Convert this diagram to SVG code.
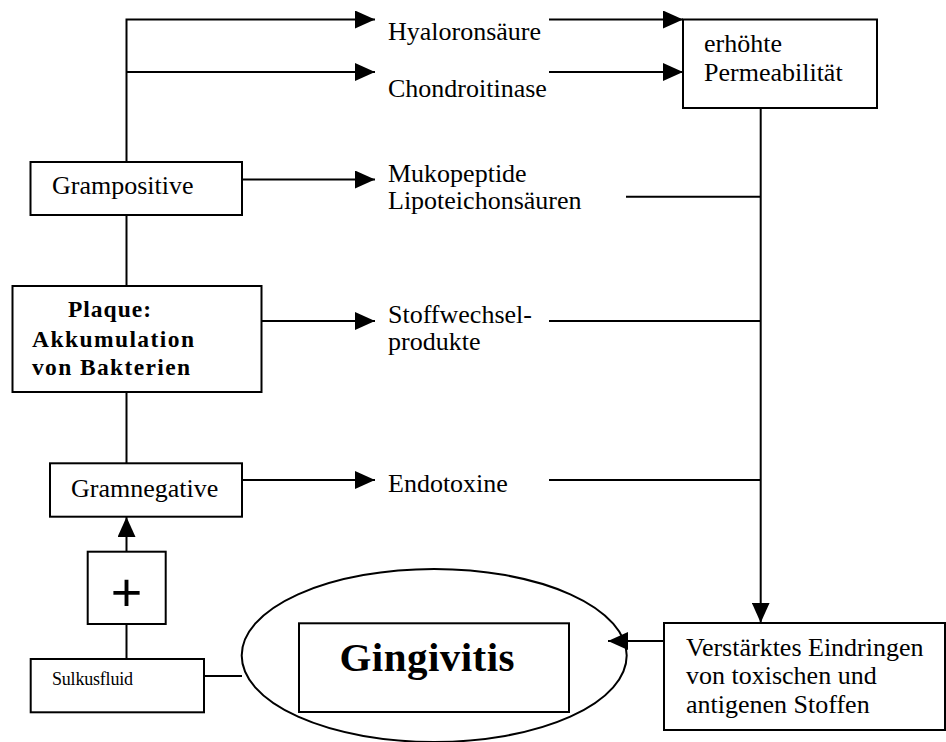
<svg xmlns="http://www.w3.org/2000/svg" width="946" height="742" viewBox="0 0 946 742">
<style>
.t{font-family:"Liberation Serif","Times New Roman",serif;font-size:26px;fill:#000}
.b{font-family:"Liberation Serif","Times New Roman",serif;font-weight:bold;fill:#000}
.box{fill:#fff;stroke:#000;stroke-width:2}
.ln{fill:none;stroke:#000;stroke-width:2}
</style>
<defs>
<marker id="ah" viewBox="0 0 20 18" refX="20" refY="9" markerWidth="20" markerHeight="18" markerUnits="userSpaceOnUse" orient="auto">
<path d="M0,0 L20,9 L0,18 Z" fill="#000"/>
</marker>
</defs>
<rect width="946" height="742" fill="#fff"/>
<g id="connectors">
<path class="ln" d="M126.5,162 V19.5 H375" marker-end="url(#ah)"/>
<path class="ln" d="M126.5,72 H375" marker-end="url(#ah)"/>
<path class="ln" d="M549,19.5 H683" marker-end="url(#ah)"/>
<path class="ln" d="M549,72 H683" marker-end="url(#ah)"/>
<path class="ln" d="M242,179.5 H375" marker-end="url(#ah)"/>
<path class="ln" d="M126.5,215 V286"/>
<path class="ln" d="M262,321 H375" marker-end="url(#ah)"/>
<path class="ln" d="M126.5,392 V463"/>
<path class="ln" d="M242,480 H375" marker-end="url(#ah)"/>
<path class="ln" d="M126.5,552 V517" marker-end="url(#ah)"/>
<path class="ln" d="M126.5,624 V659"/>
<path class="ln" d="M204,676 H242"/>
<path class="ln" d="M760.7,108 V622.7" marker-end="url(#ah)"/>
<path class="ln" d="M626,196.7 H760.7"/>
<path class="ln" d="M549,321 H760.7"/>
<path class="ln" d="M549,480 H760.7"/>
<path class="ln" d="M664,641 H608" marker-end="url(#ah)"/>
</g>
<g id="hyaloronsaeure"><text class="t" x="388" y="40">Hyaloronsäure</text></g>
<g id="chondroitinase"><text class="t" x="388" y="97">Chondroitinase</text></g>
<g id="permeabilitaet">
<rect class="box" x="683" y="19.5" width="194" height="88.5"/>
<text class="t" x="704" y="52">erhöhte</text>
<text class="t" x="704" y="81">Permeabilität</text>
</g>
<g id="grampositive">
<rect class="box" x="30.5" y="162" width="211.5" height="53"/>
<text class="t" x="52" y="194">Grampositive</text>
</g>
<g id="mukopeptide">
<text class="t" x="388" y="182">Mukopeptide</text>
<text class="t" x="388" y="209">Lipoteichonsäuren</text>
</g>
<g id="plaque">
<rect class="box" x="12.5" y="286" width="249" height="106"/>
<text class="b" font-size="23.5" x="68" y="317" textLength="83" lengthAdjust="spacing">Plaque:</text>
<text class="b" font-size="23.5" x="32" y="346.5" textLength="162" lengthAdjust="spacing">Akkumulation</text>
<text class="b" font-size="23.5" x="32" y="375" textLength="158" lengthAdjust="spacing">von Bakterien</text>
</g>
<g id="stoffwechsel">
<text class="t" x="388" y="322.5">Stoffwechsel-</text>
<text class="t" x="388" y="350">produkte</text>
</g>
<g id="gramnegative">
<rect class="box" x="50" y="463.3" width="192" height="53.4"/>
<text class="t" x="71" y="497">Gramnegative</text>
</g>
<g id="endotoxine"><text class="t" x="388" y="491.5">Endotoxine</text></g>
<g id="plus">
<rect class="box" x="87.7" y="551.7" width="78" height="72.3"/>
<text x="126.5" y="610.5" text-anchor="middle" font-family="Liberation Sans, Arial, sans-serif" font-size="54" fill="#000">+</text>
</g>
<g id="sulkusfluid">
<rect class="box" x="30.7" y="659" width="173.3" height="53.3"/>
<text class="t" x="52" y="685" style="font-size:18px" textLength="81" lengthAdjust="spacing">Sulkusfluid</text>
</g>
<g id="gingivitis">
<ellipse class="ln" cx="434.2" cy="655.5" rx="192.5" ry="86.5"/>
<rect class="box" x="299" y="623.3" width="270" height="88.7"/>
<text class="b" font-size="41" x="339.5" y="670.7" textLength="175" lengthAdjust="spacing">Gingivitis</text>
</g>
<g id="eindringen">
<rect class="box" x="664" y="623" width="281" height="107"/>
<text class="t" x="686" y="656">Verstärktes Eindringen</text>
<text class="t" x="686" y="684">von toxischen und</text>
<text class="t" x="686" y="713">antigenen Stoffen</text>
</g>
</svg>
